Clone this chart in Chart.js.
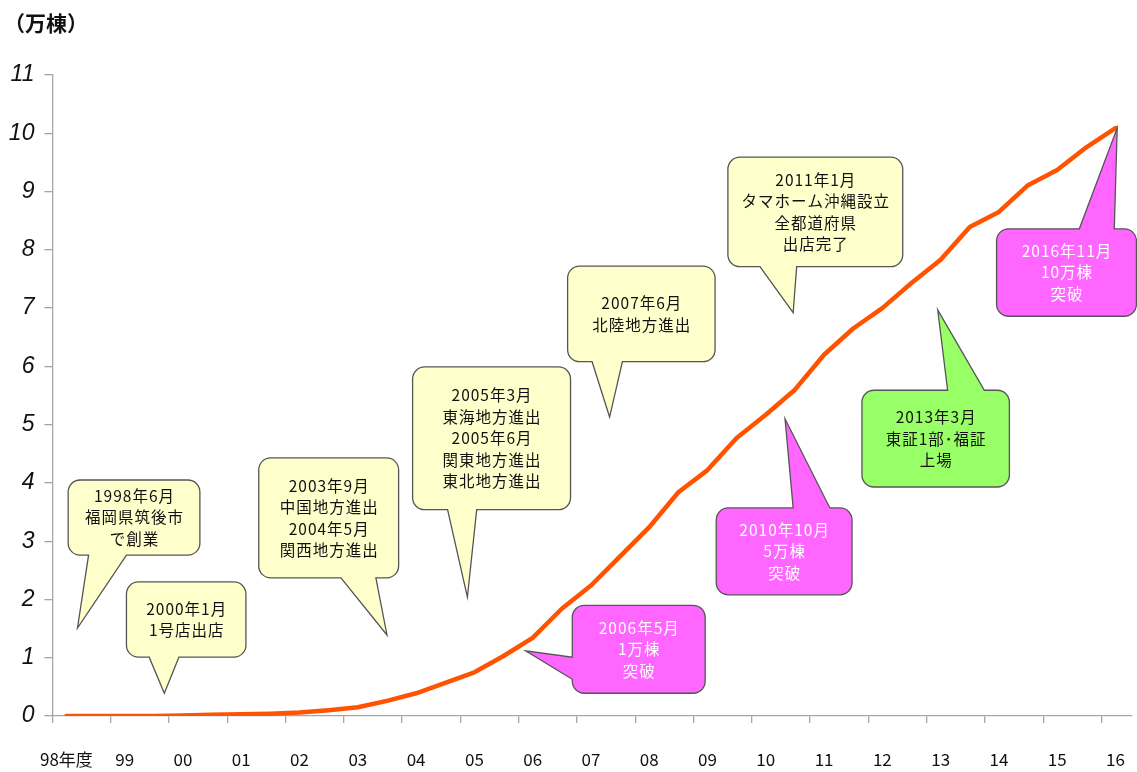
<!DOCTYPE html>
<html>
<head>
<meta charset="utf-8">
<script src="https://cdn.jsdelivr.net/npm/chart.js@4"></script>
<style>
html,body{margin:0;padding:0;background:#fff;}
#c{display:block;}
</style>
</head>
<body>
<canvas id="c" width="1137" height="772"></canvas>
<script>
// ---- data ----
const yearLabels = ['98年度','99','00','01','02','03','04','05','06','07','08','09','10','11','12','13','14','15','16'];
// semi-annual positions (category index units: 0 = 98年度 ... 18 = 16)
const periodPos = [0,0.5,1,1.5,2,2.5,3,3.5,4,4.5,5,5.5,6,6.5,7,7.5,8,8.5,9,9.5,10,10.5,11,11.5,12,12.5,13,13.5,14,14.5,15,15.5,16,16.5,17,17.5,18];
// cumulative homes, 万棟
const cumulativeHomes = [0.00,0.00,0.00,0.00,0.01,0.02,0.03,0.04,0.06,0.10,0.15,0.26,0.39,0.57,0.75,1.03,1.34,1.84,2.24,2.74,3.24,3.84,4.22,4.77,5.17,5.60,6.20,6.65,7.00,7.43,7.83,8.39,8.65,9.11,9.37,9.76,10.09];
const yTicks = [0,1,2,3,4,5,6,7,8,9,10,11];
const unitLabel = '（万棟）';

// callout texts
const calloutTexts = [
  ['1998年6月','福岡県筑後市','で創業'],
  ['2000年1月','1号店出店'],
  ['2003年9月','中国地方進出','2004年5月','関西地方進出'],
  ['2005年3月','東海地方進出','2005年6月','関東地方進出','東北地方進出'],
  ['2007年6月','北陸地方進出'],
  ['2011年1月','タマホーム沖縄設立','全都道府県','出店完了'],
  ['2006年5月','1万棟','突破'],
  ['2010年10月','5万棟','突破'],
  ['2013年3月','東証1部･福証','上場'],
  ['2016年11月','10万棟','突破']
];
// ---- layout of callouts (data coordinates) ----
const YEL = {fill:'#FFFFCC', text:'#111111'};
const MAG = {fill:'#FF66FF', text:'#FFFFFF'};
const GRN = {fill:'#99FF66', text:'#111111'};
const calloutLayout = [
  {style:YEL, box:[0.03,4.05,2.29,2.76], edge:'bottom', base:[0.38,1.03], tip:[0.19,1.51]},
  {style:YEL, box:[1.03,2.30,3.08,1.01], edge:'bottom', base:[1.42,1.93], tip:[1.68,0.39]},
  {style:YEL, box:[3.30,4.43,5.70,2.37], edge:'bottom', base:[4.71,5.31], tip:[5.50,1.39]},
  {style:YEL, box:[5.94,5.99,8.65,3.54], edge:'bottom', base:[6.54,7.04], tip:[6.88,2.04]},
  {style:YEL, box:[8.60,7.72,11.13,6.08], edge:'bottom', base:[9.02,9.54], tip:[9.32,5.13]},
  {style:YEL, box:[11.35,9.59,14.35,7.71], edge:'bottom', base:[11.90,12.53], tip:[12.47,6.92]},
  {style:MAG, box:[8.68,1.90,10.96,0.39], edge:'left', base:[1.01,0.63], tip:[7.88,1.12]},
  {style:MAG, box:[11.15,3.57,13.48,2.08], edge:'top', base:[12.47,13.10], tip:[12.33,5.10]},
  {style:GRN, box:[13.65,5.59,16.18,3.93], edge:'top', base:[15.12,15.75], tip:[14.95,6.97]},
  {style:MAG, box:[15.96,8.36,18.36,6.86], edge:'top', base:[17.38,17.98], tip:[18.03,10.09]}
];

const FONT_CJK = '"Noto Sans CJK JP", "Noto Sans", sans-serif';
const LABEL_SHIFT = 0.24; // tick marks sit left of labels

function calloutPath(ctx, x0, y0, x1, y1, r, edge, a, b, tx, ty) {
  ctx.beginPath();
  ctx.moveTo(x0 + r, y0);
  if (edge === 'top') { ctx.lineTo(a, y0); ctx.lineTo(tx, ty); ctx.lineTo(b, y0); }
  ctx.lineTo(x1 - r, y0);
  ctx.arcTo(x1, y0, x1, y0 + r, r);
  ctx.lineTo(x1, y1 - r);
  ctx.arcTo(x1, y1, x1 - r, y1, r);
  if (edge === 'bottom') { ctx.lineTo(b, y1); ctx.lineTo(tx, ty); ctx.lineTo(a, y1); }
  ctx.lineTo(x0 + r, y1);
  ctx.arcTo(x0, y1, x0, y1 - r, r);
  if (edge === 'left') { ctx.lineTo(x0, b); ctx.lineTo(tx, ty); ctx.lineTo(x0, a); }
  ctx.lineTo(x0, y0 + r);
  ctx.arcTo(x0, y0, x0 + r, y0, r);
  ctx.closePath();
}

const calloutPlugin = {
  id: 'callouts',
  afterDatasetsDraw(chart) {
    const ctx = chart.ctx, xs = chart.scales.x, ys = chart.scales.y;
    ctx.save();
    calloutLayout.forEach((c, i) => {
      const x0 = xs.getPixelForValue(c.box[0]), x1 = xs.getPixelForValue(c.box[2]);
      const y0 = ys.getPixelForValue(c.box[1]), y1 = ys.getPixelForValue(c.box[3]);
      let a, b;
      if (c.edge === 'left') { a = ys.getPixelForValue(c.base[0]); b = ys.getPixelForValue(c.base[1]); }
      else { a = xs.getPixelForValue(c.base[0]); b = xs.getPixelForValue(c.base[1]); }
      const tx = xs.getPixelForValue(c.tip[0]), ty = ys.getPixelForValue(c.tip[1]);
      calloutPath(ctx, x0, y0, x1, y1, 12, c.edge, a, b, tx, ty);
      ctx.fillStyle = c.style.fill;
      ctx.fill();
      ctx.lineWidth = 1.3;
      ctx.strokeStyle = '#555555';
      ctx.lineJoin = 'miter';
      ctx.stroke();
      const lines = calloutTexts[i];
      const lh = 21.5;
      const cx = (x0 + x1) / 2, cy = (y0 + y1) / 2;
      ctx.fillStyle = c.style.text;
      ctx.font = '15.5px ' + FONT_CJK;
      if ('letterSpacing' in ctx) ctx.letterSpacing = '1px';
      ctx.textAlign = 'center';
      ctx.textBaseline = 'middle';
      lines.forEach((t, k) => {
        ctx.fillText(t, cx + 0.5, cy + (k - (lines.length - 1) / 2) * lh);
      });
      if ('letterSpacing' in ctx) ctx.letterSpacing = '0px';
    });
    // unit label
    ctx.fillStyle = '#111';
    ctx.font = 'bold 21px ' + FONT_CJK;
    ctx.textAlign = 'left';
    ctx.textBaseline = 'middle';
    ctx.fillText(unitLabel, 4, 23);
    ctx.restore();
  }
};

new Chart(document.getElementById('c'), {
  type: 'line',
  data: {
    datasets: [{
      data: periodPos.map((x, i) => ({x: x, y: cumulativeHomes[i]})),
      borderColor: '#FF5300',
      borderWidth: 4.5,
      pointRadius: 0,
      tension: 0,
      borderCapStyle: 'round',
      borderJoinStyle: 'round',
      fill: false
    }]
  },
  options: {
    responsive: false,
    animation: false,
    events: [],
    layout: {padding: {left: 0, top: 75, right: 5, bottom: 0}},
    plugins: {legend: {display: false}, tooltip: {enabled: false}},
    scales: {
      x: {
        type: 'linear',
        min: -LABEL_SHIFT,
        max: 18.27,
        afterBuildTicks(scale) {
          scale.ticks = yearLabels.map((_, k) => ({value: k - LABEL_SHIFT}));
        },
        afterFit(scale) { scale.height = 56; },
        grid: {drawOnChartArea: false, drawTicks: true, tickLength: 7, color: '#A6A6A6', lineWidth: 1.3},
        border: {display: true, color: '#A6A6A6', width: 1.3},
        ticks: {
          autoSkip: false,
          maxRotation: 0,
          minRotation: 0,
          padding: 26,
          labelOffset: 14,
          color: '#111',
          font: {family: '"Liberation Sans Narrow", "Noto Sans CJK JP", sans-serif', size: 17},
          callback(value, index) { return yearLabels[index]; }
        }
      },
      y: {
        type: 'linear',
        min: 0,
        max: 11,
        afterBuildTicks(scale) {
          scale.ticks = yTicks.map(v => ({value: v}));
        },
        afterFit(scale) { scale.width = 51; },
        grid: {drawOnChartArea: false, drawTicks: true, tickLength: 8, color: '#A6A6A6', lineWidth: 1.3},
        border: {display: true, color: '#A6A6A6', width: 1.3},
        ticks: {
          padding: 10,
          color: '#111',
          font: {family: '"Liberation Sans Narrow", "Liberation Sans", sans-serif', size: 23, style: 'italic'},
          callback(value) { return String(value); }
        }
      }
    }
  },
  plugins: [calloutPlugin]
});
</script>
</body>
</html>
